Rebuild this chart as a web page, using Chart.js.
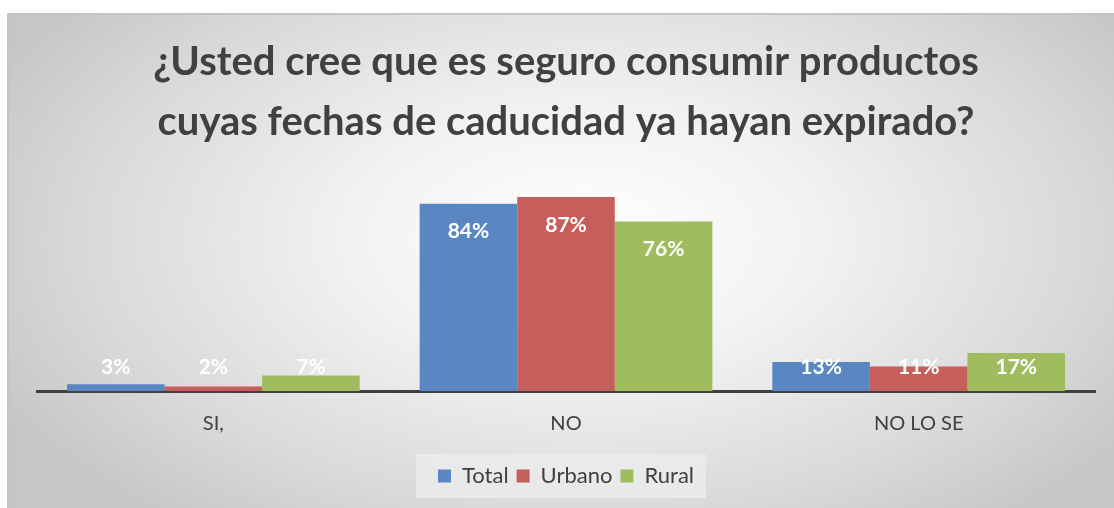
<!DOCTYPE html>
<html>
<head>
<meta charset="utf-8">
<script src="https://cdn.jsdelivr.net/npm/chart.js@4.4.0/dist/chart.umd.min.js"></script>
<style>
  html, body { margin: 0; padding: 0; background: #fff; }
  #wrap {
    position: absolute; left: 7px; top: 13px; width: 1107px; height: 495px;
    border-top: 2px solid #c4c4c4; border-left: 2px solid #c4c4c4;
    background: radial-gradient(ellipse 60% 75% at 52% 45%, #ffffff 0%, #f2f2f2 35%, #d9d9d9 75%, #c6c6c6 100%);
    box-sizing: border-box;
  }
  canvas { display: block; }
</style>
</head>
<body>
<div id="wrap"><canvas id="chart" width="1105" height="493"></canvas></div>
<script>
const categories = ["SI,", "NO", "NO LO SE"];
const totalVals = [3, 84, 13];
const urbanoVals = [2, 87, 11];
const ruralVals = [7, 76, 17];
const titleLines = ["¿Usted cree que es seguro consumir productos", "cuyas fechas de caducidad ya hayan expirado?"];

const font = "Lato, 'Open Sans', sans-serif";

// white % labels near the top of each bar
const barLabels = {
    id: "barLabels",
    afterDatasetsDraw(chart) {
        const ctx = chart.ctx;
        const base = chart.scales.y.getPixelForValue(0);
        ctx.save();
        ctx.fillStyle = "#ffffff";
        ctx.font = "bold 21px " + font;
        ctx.textAlign = "center";
        ctx.textBaseline = "middle";
        chart.data.datasets.forEach((ds, i) => {
            chart.getDatasetMeta(i).data.forEach((bar, j) => {
                const y = Math.min(bar.y + 28, base - 24);
                ctx.fillText(ds.data[j] + "%", bar.x, y);
            });
        });
        ctx.restore();
    }
};

// light box behind the legend
const legendBox = {
    id: "legendBox",
    beforeDraw(chart) {
        const boxes = chart.legend.legendHitBoxes;
        if (!boxes || !boxes.length) return;
        const l = Math.min(...boxes.map(b => b.left)) - 22;
        const r = Math.max(...boxes.map(b => b.left + b.width)) + 12;
        const t = boxes[0].top - 11;
        const h = boxes[0].height + 22;
        const ctx = chart.ctx;
        ctx.save();
        ctx.fillStyle = "rgba(235,235,235,0.85)";
        ctx.fillRect(l, t, r - l, h);
        ctx.restore();
    }
};

new Chart(document.getElementById("chart"), {
    type: "bar",
    data: {
        labels: categories,
        datasets: [
            { label: "Total", data: totalVals, backgroundColor: "#5a86c1" },
            { label: "Urbano", data: urbanoVals, backgroundColor: "#c65e5b" },
            { label: "Rural", data: ruralVals, backgroundColor: "#9fbd5f" }
        ]
    },
    options: {
        responsive: false,
        animation: false,
        layout: { padding: { left: 28, right: 19, top: 0, bottom: 11 } },
        datasets: { bar: { barPercentage: 1, categoryPercentage: 0.83 } },
        plugins: {
            title: {
                display: true,
                text: titleLines,
                color: "#404040",
                font: { family: font, size: 40, weight: "bold", lineHeight: "60px" },
                padding: { top: 17, bottom: 16 }
            },
            legend: {
                position: "bottom",
                labels: {
                    color: "#404040",
                    font: { family: font, size: 22 },
                    boxWidth: 13, boxHeight: 13,
                    padding: 8
                }
            },
            tooltip: { enabled: false }
        },
        scales: {
            x: {
                grid: { display: false, drawTicks: false },
                border: { display: true, color: "#404040", width: 3 },
                ticks: { color: "#404040", font: { family: font, size: 20 }, padding: 21 }
            },
            y: {
                display: false,
                min: 0, max: 100
            }
        }
    },
    plugins: [barLabels, legendBox]
});
</script>
</body>
</html>
